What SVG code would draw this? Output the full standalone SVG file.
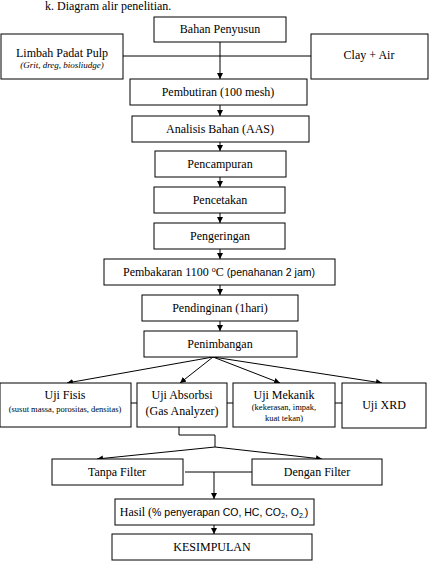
<svg xmlns="http://www.w3.org/2000/svg" width="429" height="577" viewBox="0 0 429 577" font-family="'Liberation Serif','Times New Roman',serif">
<defs>
<marker id="ah" viewBox="0 0 10 10" refX="10" refY="5" markerWidth="6" markerHeight="6" markerUnits="userSpaceOnUse" orient="auto">
<path d="M0,0 L10,5 L0,10 z" fill="#000"/>
</marker>
<style>
rect{fill:#fff;stroke:#000;stroke-width:1}
text{font-family:"Liberation Serif","Times New Roman",serif;font-size:12px;fill:#000;text-anchor:middle}
.s{font-family:"Liberation Sans",Arial,sans-serif;font-size:10.5px}
.sm{font-size:8.5px}
.it{font-style:italic;font-size:9px}
.c line,.c polyline{stroke:#000;stroke-width:1;fill:none}
.a{marker-end:url(#ah)}
</style>
</defs>
<rect x="0" y="0" width="429" height="577" style="fill:#fff;stroke:none"/>
<text x="45" y="10" style="text-anchor:start">k. Diagram alir penelitian.</text>
<g class="c" id="connectors">
<line x1="123" y1="56" x2="311" y2="56"/>
<line class="a" x1="220" y1="42" x2="220" y2="79"/>
<line class="a" x1="220" y1="105" x2="220" y2="116"/>
<line class="a" x1="220" y1="142" x2="220" y2="151"/>
<line class="a" x1="220" y1="177" x2="220" y2="187"/>
<line class="a" x1="220" y1="213" x2="220" y2="223"/>
<line class="a" x1="220" y1="249" x2="220" y2="259"/>
<line class="a" x1="220" y1="285" x2="220" y2="295"/>
<line class="a" x1="220" y1="321" x2="220" y2="331"/>
<line class="a" x1="213" y1="357" x2="67" y2="383"/>
<line class="a" x1="213" y1="357" x2="180" y2="383"/>
<line class="a" x1="213" y1="357" x2="280" y2="383"/>
<line class="a" x1="213" y1="357" x2="382" y2="383"/>
<line x1="131" y1="403" x2="137" y2="403"/>
<line x1="227" y1="403" x2="233" y2="403"/>
<line x1="335" y1="403" x2="342" y2="403"/>
<polyline points="179,427 179,435 215,435 215,447"/>
<line class="a" x1="215" y1="447" x2="97" y2="459"/>
<line class="a" x1="215" y1="447" x2="322" y2="459"/>
<line x1="185" y1="472" x2="252" y2="472"/>
<line class="a" x1="214" y1="472" x2="214" y2="499"/>
<line class="a" x1="214" y1="525" x2="214" y2="534"/>
</g>
<g id="bahan"><rect x="154" y="17" width="132" height="25"/><text x="220" y="33">Bahan Penyusun</text></g>
<g id="limbah"><rect x="1" y="34" width="122" height="45"/><text x="62" y="57">Limbah Padat Pulp</text><text class="it" x="62" y="68">(<tspan>Grit, dreg, biosliudge</tspan>)</text></g>
<g id="clay"><rect x="311" y="34" width="117" height="45"/><text x="369" y="59">Clay + Air</text></g>
<g id="pembutiran"><rect x="130" y="79" width="177" height="26"/><text x="218" y="96">Pembutiran (100 mesh)</text></g>
<g id="analisis"><rect x="132" y="116" width="177" height="26"/><text x="220" y="133">Analisis Bahan (AAS)</text></g>
<g id="pencampuran"><rect x="155" y="151" width="131" height="26"/><text x="220" y="168">Pencampuran</text></g>
<g id="pencetakan"><rect x="154" y="187" width="131" height="26"/><text x="220" y="204">Pencetakan</text></g>
<g id="pengeringan"><rect x="154" y="223" width="131" height="26"/><text x="220" y="240">Pengeringan</text></g>
<g id="pembakaran"><rect x="104" y="259" width="231" height="26"/><text x="219" y="276">Pembakaran 1100 <tspan font-size="8" dy="-4">o</tspan><tspan dy="4">C  </tspan><tspan class="s">(penahanan 2 jam)</tspan></text></g>
<g id="pendinginan"><rect x="142" y="295" width="156" height="26"/><text x="220" y="312">Pendinginan (1hari)</text></g>
<g id="penimbangan"><rect x="144" y="331" width="153" height="26"/><text x="220" y="348">Penimbangan</text></g>
<g id="fisis"><rect x="0" y="383" width="131" height="44"/><text x="65" y="399">Uji Fisis</text><text class="sm" x="65" y="412">(susut massa, porositas, densitas)</text></g>
<g id="absorbsi"><rect x="137" y="383" width="90" height="44"/><text x="182" y="399">Uji Absorbsi</text><text x="182" y="415">(Gas Analyzer)</text></g>
<g id="mekanik"><rect x="233" y="383" width="102" height="44"/><text x="284" y="399">Uji Mekanik</text><text class="sm" x="284" y="410">(kekerasan, impak,</text><text class="sm" x="284" y="421">kuat tekan)</text></g>
<g id="xrd"><rect x="342" y="383" width="84" height="45"/><text x="384" y="409">Uji XRD</text></g>
<g id="tanpa"><rect x="52" y="459" width="131" height="26"/><text x="117" y="476">Tanpa Filter</text></g>
<g id="dengan"><rect x="252" y="459" width="130" height="26"/><text x="317" y="476">Dengan Filter</text></g>
<g id="hasil"><rect x="115" y="499" width="199" height="26"/><text x="214" y="516">Hasil (<tspan class="s">% penyerapan CO, HC, CO<tspan font-size="7" dy="2">2</tspan><tspan dy="-2">, O</tspan><tspan font-size="7" dy="2">2.</tspan><tspan dy="-2">)</tspan></tspan></text></g>
<g id="kesimpulan"><rect x="112" y="534" width="200" height="26"/><text x="212" y="551">KESIMPULAN</text></g>
</svg>
